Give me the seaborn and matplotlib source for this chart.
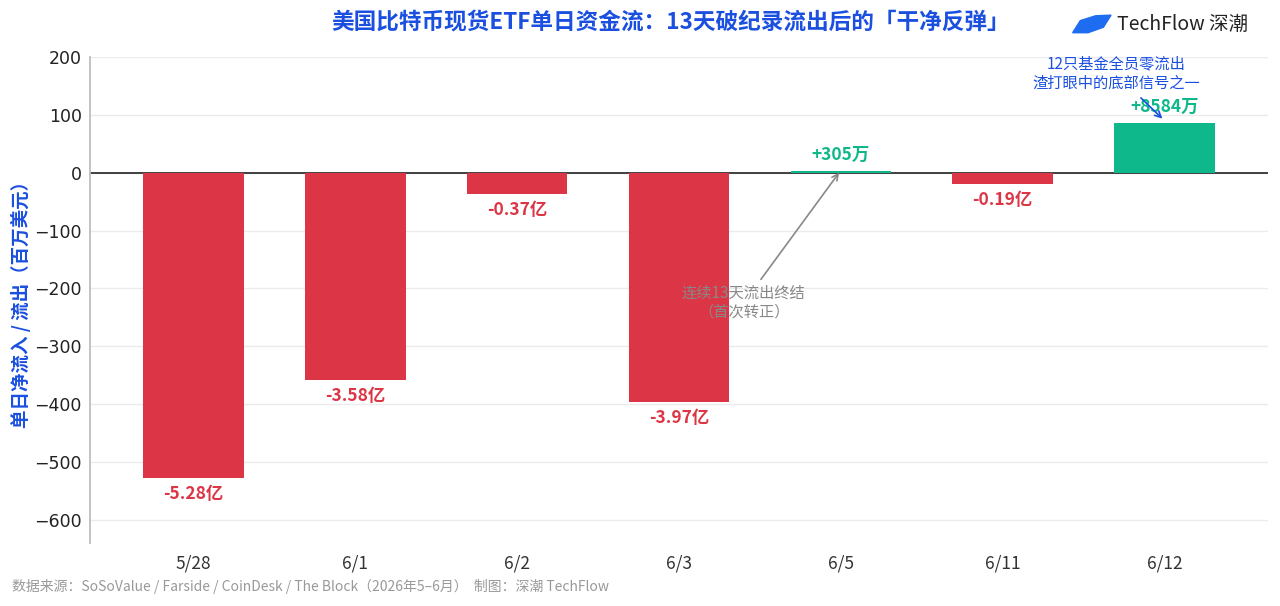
import matplotlib
matplotlib.use("Agg")
import matplotlib.pyplot as plt
import matplotlib.patches as mpatches
import pandas as pd
import seaborn as sns

dates = ["5/28", "6/1", "6/2", "6/3", "6/5", "6/11", "6/12"]
flows = [-527.9, -357.9, -37.0, -397.0, 3.05, -19.0, 85.84]
labels = ["-5.28亿", "-3.58亿", "-0.37亿", "-3.97亿", "+305万", "-0.19亿", "+8584万"]
yticks = [200, 100, 0, -100, -200, -300, -400, -500, -600]

RED = "#DC3545"
GREEN = "#0FB88A"
BLUE = "#1A4FE0"

sns.set_theme(style="white")
plt.rcParams["font.family"] = ["Noto Sans CJK SC", "DejaVu Sans"]
plt.rcParams["axes.unicode_minus"] = True

df = pd.DataFrame({"date": dates, "flow": flows, "label": labels})
df["color"] = [GREEN if v > 0 else RED for v in flows]

fig = plt.figure(figsize=(12.8, 6.06), dpi=100)
ax = fig.add_axes([0.0703, 0.104, 0.9203, 0.802])

sns.barplot(data=df, x="date", y="flow", hue="date", palette=dict(zip(dates, df["color"])),
            width=0.62, legend=False, ax=ax, saturation=1, zorder=2, linewidth=0)

ax.set_ylim(-640, 200)
ax.set_xlim(-0.64, 6.64)
ax.set_yticks(yticks)
ax.set_yticklabels([f"{t}".replace("-", "−") for t in yticks], fontsize=12.5,
                   color="#222222", family="DejaVu Sans")
ax.tick_params(axis="x", labelsize=12.5, colors="#333333", length=0, pad=8)
ax.tick_params(axis="y", length=0, pad=6)
ax.yaxis.grid(True, color="#EBEBEB", linewidth=1)
ax.set_axisbelow(True)
ax.axhline(0, color="#333333", linewidth=1.3, zorder=1.5)
for s in ["top", "right", "bottom"]:
    ax.spines[s].set_visible(False)
ax.spines["left"].set_color("#BBBBBB")
ax.set_xlabel("")
ax.set_ylabel("单日净流入 / 流出（百万美元）", fontsize=13.3, color=BLUE, fontweight="bold", labelpad=2)

for i, row in df.iterrows():
    if row["flow"] < 0:
        ax.text(i, row["flow"] - 12, row["label"], ha="center", va="top",
                fontsize=12.5, fontweight="bold", color=RED)
    else:
        ax.text(i, row["flow"] + 12, row["label"], ha="center", va="bottom",
                fontsize=12.5, fontweight="bold", color=GREEN)

ax.annotate("连续13天流出终结\n（首次转正）", xy=(4.0, 4), xytext=(3.4, -225),
            ha="center", va="center", fontsize=11, color="#888888", linespacing=1.15,
            arrowprops=dict(arrowstyle="->", color="#888888", lw=1.2))
ax.annotate("12只基金全员零流出\n渣打眼中的底部信号之一", xy=(6.0, 90), xytext=(5.70, 171),
            ha="center", va="center", fontsize=11, color=BLUE, linespacing=1.15,
            arrowprops=dict(arrowstyle="->", color=BLUE, lw=1.2, shrinkA=3))

fig.text(0.524, 0.962, "美国比特币现货ETF单日资金流：13天破纪录流出后的「干净反弹」",
         ha="center", va="center", fontsize=16.3, fontweight="bold", color=BLUE)
fig.text(0.009, 0.032, "数据来源：SoSoValue / Farside / CoinDesk / The Block（2026年5–6月）  制图：深潮 TechFlow",
         ha="left", va="center", fontsize=10, color="#999999")

# logo
leaf = mpatches.Polygon([(0.838, 0.946), (0.844, 0.966), (0.856, 0.974), (0.868, 0.975),
                         (0.862, 0.955), (0.850, 0.946)],
                        closed=True, transform=fig.transFigure, color="#1E6CF0", zorder=5)
fig.patches.append(leaf)
fig.text(0.873, 0.959, "TechFlow 深潮", ha="left", va="center", fontsize=14, color="#222222")

fig.savefig("out.png", dpi=100)
